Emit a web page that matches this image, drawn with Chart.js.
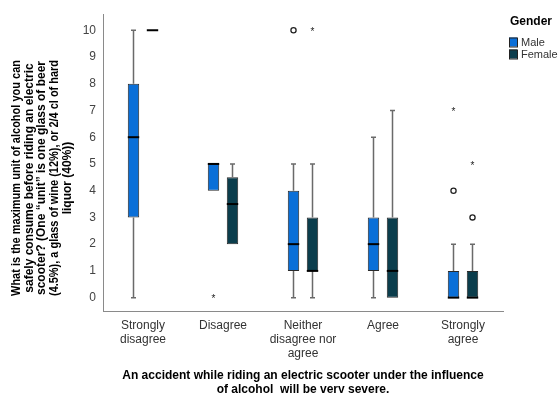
<!DOCTYPE html>
<html>
<head>
<meta charset="utf-8">
<script src="https://cdn.jsdelivr.net/npm/chart.js@4"></script>
<style>
  body { margin: 0; background: #fff; }
  #wrap { width: 558px; height: 393px; }
</style>
</head>
<body>
<div id="wrap"><canvas id="chart" width="558" height="393"></canvas></div>
<script>
const categories = [["Strongly", "disagree"], "Disagree", ["Neither", "disagree nor", "agree"], "Agree", ["Strongly", "agree"]];
const yTicks = [0, 1, 2, 3, 4, 5, 6, 7, 8, 9, 10];

// box stats per category: [min, q1, median, q3, max]
const maleStats = [[0, 3, 6, 8, 10], [4, 4, 5, 5, 5], [0, 1, 2, 4, 5], [0, 1, 2, 3, 6], [0, 0, 0, 1, 2]];
const femaleStats = [[10, 10, 10, 10, 10], [2, 2, 3.5, 4.5, 5], [0, 1, 1, 3, 5], [0, 0, 1, 3, 7], [0, 0, 0, 1, 2]];

// outliers (circle = mild, star = extreme)
const maleCircles = [[], [], [10], [], [4]];
const maleStars = [[], [0], [], [], [7]];
const femaleCircles = [[], [], [], [], [3]];
const femaleStars = [[], [], [10], [], [5]];

const maleColor = "#0a6fd8";
const femaleColor = "#0b3d4c";

const boxPlugin = {
  id: "boxes",
  afterDatasetsDraw(chart) {
    const ctx = chart.ctx;
    const y = chart.scales.y;
    const groups = [
      [maleStats, maleCircles, maleStars],
      [femaleStats, femaleCircles, femaleStars]
    ];
    groups.forEach(([stats, circles, stars], di) => {
      const meta = chart.getDatasetMeta(di);
      meta.data.forEach((bar, i) => {
        const [mn, q1, med, q3, mx] = stats[i];
        const x = bar.x;
        const w = bar.width;
        ctx.save();
        // whiskers
        ctx.strokeStyle = "#6a6a6a";
        ctx.lineWidth = 1.5;
        const cap = 2.5;
        if (mx > q3) {
          ctx.beginPath();
          ctx.moveTo(x, y.getPixelForValue(q3));
          ctx.lineTo(x, y.getPixelForValue(mx));
          ctx.moveTo(x - cap, y.getPixelForValue(mx));
          ctx.lineTo(x + cap, y.getPixelForValue(mx));
          ctx.stroke();
        }
        if (mn < q1) {
          ctx.beginPath();
          ctx.moveTo(x, y.getPixelForValue(q1));
          ctx.lineTo(x, y.getPixelForValue(mn));
          ctx.moveTo(x - cap, y.getPixelForValue(mn));
          ctx.lineTo(x + cap, y.getPixelForValue(mn));
          ctx.stroke();
        }
        // median
        ctx.strokeStyle = "#000";
        ctx.lineWidth = 2;
        ctx.beginPath();
        ctx.moveTo(x - w / 2, y.getPixelForValue(med));
        ctx.lineTo(x + w / 2, y.getPixelForValue(med));
        ctx.stroke();
        // outliers
        ctx.lineWidth = 1.3;
        ctx.strokeStyle = "#222";
        circles[i].forEach(v => {
          ctx.beginPath();
          ctx.arc(x, y.getPixelForValue(v), 2.6, 0, Math.PI * 2);
          ctx.stroke();
        });
        ctx.fillStyle = "#222";
        ctx.font = "10px 'Liberation Sans', Arial";
        ctx.textAlign = "center";
        ctx.textBaseline = "middle";
        stars[i].forEach(v => {
          ctx.fillText("*", x, y.getPixelForValue(v) + 2);
        });
        ctx.restore();
      });
    });
  },
  afterDraw(chart) {
    const ctx = chart.ctx;
    ctx.save();
    // y title
    const lines = [
      "What is the maximum unit of alcohol you can",
      "safely consume before riding an electric",
      "scooter? (One \u201cunit\u201d is one glass of beer",
      "(4.5%), a glass of wine (12%), or 2/4 cl of hard",
      "liquor (40%))"
    ];
    ctx.translate(42, 178);
    ctx.rotate(-Math.PI / 2);
    ctx.font = "bold 12px 'Liberation Sans', Arial";
    ctx.fillStyle = "#000";
    ctx.textAlign = "center";
    ctx.textBaseline = "middle";
    lines.forEach((t, i) => {
      const tw = ctx.measureText(t).width;
      ctx.save();
      ctx.translate(0, (i - 2) * 12.6);
      if (tw > 236) ctx.scale(236 / tw, 1);
      ctx.fillText(t, 0, 0);
      ctx.restore();
    });
    ctx.restore();

    // legend
    ctx.save();
    ctx.font = "bold 12px 'Liberation Sans', Arial";
    ctx.fillStyle = "#000";
    ctx.textBaseline = "middle";
    ctx.fillText("Gender", 510, 22);
    ctx.font = "11px 'Liberation Sans', Arial";
    [["Male", maleColor, 42], ["Female", femaleColor, 54]].forEach(([lab, col, yy]) => {
      ctx.fillStyle = col;
      ctx.fillRect(509, yy - 4.5, 8, 9);
      ctx.strokeStyle = "#222";
      ctx.lineWidth = 1;
      ctx.strokeRect(509.5, yy - 4, 8, 9);
      ctx.fillStyle = "#333";
      ctx.fillText(lab, 521, yy + 1);
    });
    ctx.restore();
  }
};

const floating = s => s.map(r => [r[1], r[3]]);

new Chart(document.getElementById("chart"), {
  type: "bar",
  data: {
    labels: categories,
    datasets: [
      {
        label: "Male",
        data: floating(maleStats),
        backgroundColor: maleColor,
        borderColor: "#2a2a2a",
        borderWidth: 1,
        borderSkipped: false,
        barPercentage: 0.6,
        categoryPercentage: 0.475
      },
      {
        label: "Female",
        data: floating(femaleStats),
        backgroundColor: femaleColor,
        borderColor: "#2a2a2a",
        borderWidth: 1,
        borderSkipped: false,
        barPercentage: 0.6,
        categoryPercentage: 0.475
      }
    ]
  },
  options: {
    responsive: false,
    animation: false,
    layout: { padding: { top: 10, right: 55, left: 0, bottom: 0 } },
    plugins: {
      legend: { display: false },
      tooltip: { enabled: false }
    },
    scales: {
      x: {
        grid: { display: false, drawTicks: false },
        border: { display: true, color: "#8a8a8a", width: 1 },
        ticks: {
          color: "#333",
          font: { family: "'Liberation Sans', Arial", size: 12 },
          padding: 7,
          maxRotation: 0,
          autoSkip: false
        },
        title: {
          display: true,
          text: ["An accident while riding an electric scooter under the influence", "of alcohol  will be very severe."],
          color: "#000",
          font: { family: "'Liberation Sans', Arial", size: 12, weight: "bold" },
          padding: { top: 16, bottom: -4 }
        },
        afterFit: s => { s.height = 82; }
      },
      y: {
        min: -0.5,
        max: 10.6,
        grid: { display: false, drawTicks: false },
        border: { display: true, color: "#8a8a8a", width: 1 },
        ticks: {
          color: "#444",
          font: { family: "'Liberation Sans', Arial", size: 12 },
          padding: 7
        },
        afterBuildTicks: s => { s.ticks = yTicks.map(v => ({ value: v })); },
        afterFit: s => { s.width = 103; }
      }
    }
  },
  plugins: [boxPlugin]
});
</script>
</body>
</html>
